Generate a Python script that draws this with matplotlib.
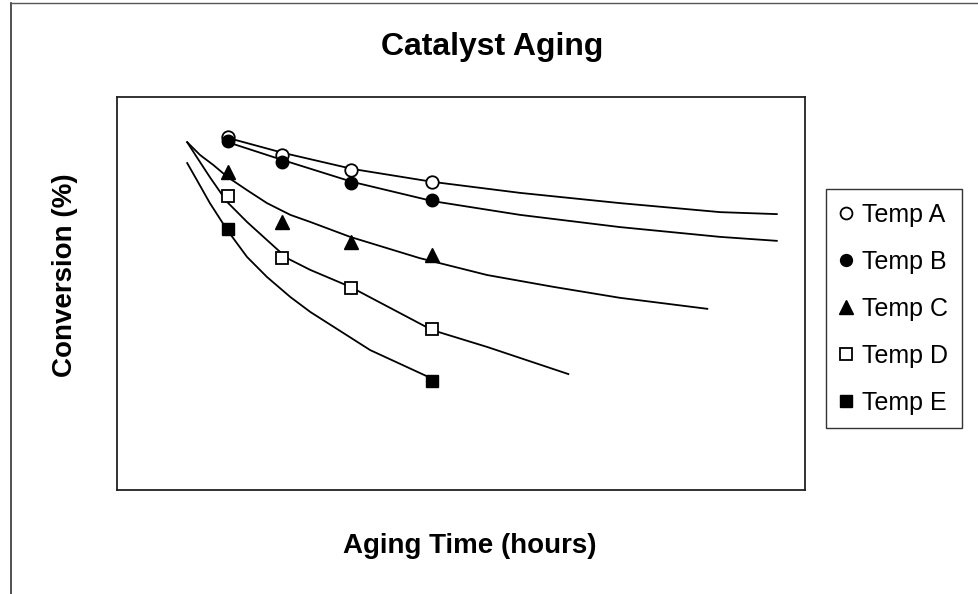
import matplotlib
matplotlib.use("Agg")
import matplotlib.pyplot as plt
from matplotlib.lines import Line2D

plt.rcParams['font.family'] = ['Liberation Sans', 'DejaVu Sans']

# measured points (aging time, conversion) - axis units are arbitrary, no ticks shown
t_pts = [16.1, 24.0, 34.0, 45.8]
conv_a = [89.8, 85.2, 81.4, 78.4]
conv_b = [88.8, 83.5, 78.1, 73.8]
conv_c = [80.9, 68.2, 63.1, 59.8]
conv_d = [74.8, 59.0, 51.4, 41.0]
t_e = [16.1, 45.8]
conv_e = [66.4, 27.7]

# hand drawn trend curves
fit_a_t = [16.1, 24.1, 34.2, 45.9, 58.6, 73.1, 87.7, 95.9]
fit_a_y = [89.6, 85.8, 81.7, 78.4, 75.6, 73.0, 70.7, 70.2]
fit_b_t = [16.1, 24.0, 34.2, 45.9, 58.6, 73.1, 87.7, 95.9]
fit_b_y = [88.5, 84.0, 78.4, 73.5, 70.0, 66.9, 64.4, 63.4]
fit_c_t = [10.2, 12.1, 14.0, 16.1, 18.9, 21.8, 25.2, 28.1, 33.9, 44.0, 53.8, 63.4, 73.1, 85.8]
fit_c_y = [88.5, 85.2, 82.7, 79.6, 76.3, 73.0, 70.0, 68.2, 64.4, 59.0, 54.7, 51.7, 48.9, 46.1]
fit_d_t = [10.2, 11.6, 13.5, 16.0, 18.9, 21.8, 24.7, 28.1, 33.9, 45.8, 53.8, 65.6]
fit_d_y = [88.5, 84.7, 79.6, 73.3, 68.2, 63.6, 59.0, 56.0, 51.7, 40.7, 36.4, 29.5]
fit_e_t = [10.2, 11.6, 13.5, 16.0, 18.9, 21.8, 25.2, 28.1, 36.8, 45.6]
fit_e_y = [83.2, 78.9, 73.0, 66.2, 59.3, 54.2, 49.1, 45.3, 35.6, 28.5]

labels = ['Temp A', 'Temp B', 'Temp C', 'Temp D', 'Temp E']

fig = plt.figure(figsize=(9.79, 5.94), dpi=100)
ax = fig.add_axes([117 / 979, 1 - 490 / 594, 688 / 979, 393 / 594])

# outer frame (only left and top edges visible in the scan)
fig.add_artist(Line2D([11 / 979, 11 / 979], [0, 1 - 3 / 594], color='#333333', lw=1.2))
fig.add_artist(Line2D([11 / 979, 1], [1 - 3 / 594, 1 - 3 / 594], color='#555555', lw=1.0))

lw = 1.3
for tt, yy in [(fit_a_t, fit_a_y), (fit_b_t, fit_b_y), (fit_c_t, fit_c_y),
               (fit_d_t, fit_d_y), (fit_e_t, fit_e_y)]:
    ax.plot(tt, yy, color='black', lw=lw, zorder=2)

ax.plot(t_pts, conv_a, ls='none', marker='o', ms=9, mfc='white', mec='black', mew=1.3, label=labels[0], zorder=3)
ax.plot(t_pts, conv_b, ls='none', marker='o', ms=9, mfc='black', mec='black', label=labels[1], zorder=3)
ax.plot(t_pts, conv_c, ls='none', marker='^', ms=10, mfc='black', mec='black', label=labels[2], zorder=3)
ax.plot(t_pts, conv_d, ls='none', marker='s', ms=9, mfc='white', mec='black', mew=1.3, label=labels[3], zorder=3)
ax.plot(t_e, conv_e, ls='none', marker='s', ms=9, mfc='black', mec='black', label=labels[4], zorder=3)

ax.set_xlim(0, 100)
ax.set_ylim(0, 100)
ax.set_xticks([])
ax.set_yticks([])
for s in ax.spines.values():
    s.set_color('#222222')
    s.set_linewidth(1.3)

fig.text(492 / 979, 1 - 55 / 594, 'Catalyst Aging', ha='center', va='baseline',
         fontsize=23, fontweight='bold')
fig.text(470 / 979, 1 - 553 / 594, 'Aging Time (hours)', ha='center', va='baseline',
         fontsize=20, fontweight='bold')
fig.text(65 / 979, 1 - 275 / 594, 'Conversion (%)', ha='center', va='center',
         rotation=90, fontsize=20, fontweight='bold')

leg = ax.legend(loc='upper left', bbox_to_anchor=(826 / 979, 1 - 189 / 594),
                bbox_transform=fig.transFigure, borderaxespad=0, fontsize=18,
                frameon=True, fancybox=False, handlelength=0.5, handletextpad=0.4,
                labelspacing=0.92, borderpad=0.55, markerscale=0.95)
leg.get_frame().set_edgecolor('black')
leg.get_frame().set_linewidth(1.0)

fig.savefig('out.png', dpi=100)
